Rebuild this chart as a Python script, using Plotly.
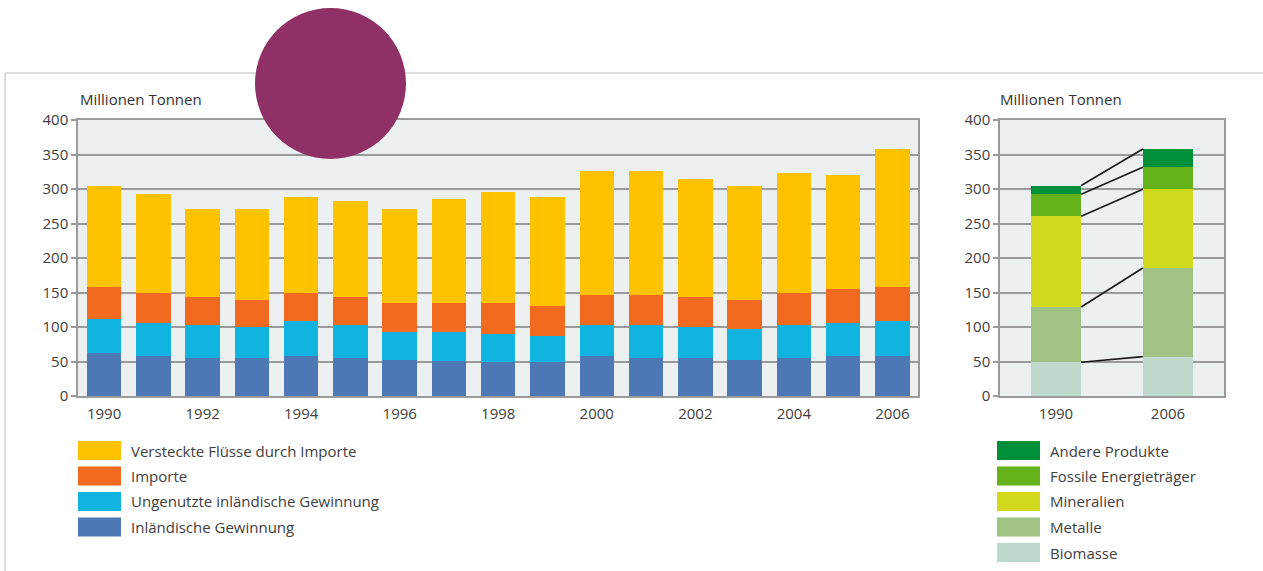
import plotly.graph_objects as go

W, H = 1263, 571

# ---------------- data ----------------
years = list(range(1990, 2007))
inland = [62, 58.5, 55.5, 54.5, 58.5, 55.5, 52, 51, 49, 50, 58.5, 55.5, 55.5, 52, 55.5, 58.5, 58.5]
unused = [49.5, 47, 47.5, 45, 50, 47.5, 41, 42, 40.5, 37.5, 44.5, 47.5, 44, 44.5, 47.5, 47, 50]
imports = [47, 44.5, 40, 40, 41.5, 40, 41.5, 41.5, 45, 43, 43.5, 43.5, 43.5, 43, 47, 49.5, 50]
hidden = [145.5, 143, 127.5, 131, 139, 140, 136, 151.5, 161, 158.5, 179.5, 179.5, 171, 165, 172.5, 165, 199.5]

left_names = ["Inländische Gewinnung", "Ungenutzte inländische Gewinnung", "Importe",
              "Versteckte Flüsse durch Importe"]
left_colors = ["#4e77b5", "#10b4de", "#f26a1f", "#ffc200"]

comp_years = ["1990", "2006"]
biomasse = [49, 57]
metalle = [80, 128.5]
mineralien = [131.5, 114]
fossile = [32, 32]
andere = [12.5, 26.5]
right_names = ["Biomasse", "Metalle", "Mineralien", "Fossile Energieträger", "Andere Produkte"]
right_colors = ["#bcd9cc", "#9fc285", "#d3da1e", "#66b21a", "#00903a"]

y_ticks = [0, 50, 100, 150, 200, 250, 300, 350, 400]
x_tick_years = [1990, 1992, 1994, 1996, 1998, 2000, 2002, 2004, 2006]
unit_label = "Millionen Tonnen"

# ---------------- helpers ----------------
def px(x):
    return x / W

def py(y):
    return 1 - y / H

FONT = "Open Sans"
TXT = "#404040"
GRID = "#9a9a9a"
FS = 15

fig = go.Figure()

left_series = [inland, unused, imports, hidden]
for name, col, vals in zip(left_names, left_colors, left_series):
    fig.add_trace(go.Bar(x=years, y=vals, name=name, marker_color=col,
                         marker_line_width=0, width=0.7, xaxis="x", yaxis="y",
                         showlegend=False))

right_series = [biomasse, metalle, mineralien, fossile, andere]
bw = 0.45
xr = list(range(len(comp_years)))
for name, col, vals in zip(right_names, right_colors, right_series):
    fig.add_trace(go.Bar(x=xr, y=vals, name=name, marker_color=col,
                         marker_line_width=0, width=bw, xaxis="x2", yaxis="y2",
                         showlegend=False))

# connector lines between segment boundaries
cum = [0, 0]
for vals in right_series:
    cum = [cum[0] + vals[0], cum[1] + vals[1]]
    fig.add_trace(go.Scatter(x=[xr[0] + bw / 2, xr[1] - bw / 2], y=list(cum),
                             mode="lines", line=dict(color="#1a1a1a", width=1.6),
                             xaxis="x2", yaxis="y2", showlegend=False, hoverinfo="skip"))

axis_common = dict(showline=True, linecolor=GRID, linewidth=1.5, mirror=True,
                   automargin=False, tickfont=dict(family=FONT, size=FS, color=TXT))

fig.update_layout(
    width=W, height=H,
    margin=dict(l=0, r=0, t=0, b=0),
    paper_bgcolor="white",
    plot_bgcolor="#edf0f0",
    barmode="stack",
    showlegend=False,
    xaxis=dict(domain=[px(78), px(918)], range=[1989.47, 2006.52],
               tickmode="array", tickvals=x_tick_years,
               ticktext=[str(v) for v in x_tick_years],
               ticks="", showgrid=False, zeroline=False, anchor="y",
               ticklabelstandoff=3, **axis_common),
    yaxis=dict(domain=[py(396), py(120)], range=[0, 400], tickvals=y_ticks,
               ticks="outside", ticklen=5, tickcolor=GRID, tickwidth=1.5,
               showgrid=True, gridcolor=GRID, gridwidth=1.5, zeroline=False,
               anchor="x", **axis_common),
    xaxis2=dict(domain=[px(1000), px(1224)], range=[-0.5, 1.5],
                tickmode="array", tickvals=xr, ticktext=comp_years,
                ticks="", showgrid=False, zeroline=False, anchor="y2",
                ticklabelstandoff=3, **axis_common),
    yaxis2=dict(domain=[py(396), py(120)], range=[0, 400], tickvals=y_ticks,
                ticks="outside", ticklen=5, tickcolor=GRID, tickwidth=1.5,
                showgrid=True, gridcolor=GRID, gridwidth=1.5, zeroline=False,
                anchor="x2", **axis_common),
)

shapes = []
annotations = []

# outer frame lines
shapes.append(dict(type="line", xref="paper", yref="paper", x0=px(5), x1=px(1263),
                   y0=py(73), y1=py(73), line=dict(color="#bdbdbd", width=1)))
shapes.append(dict(type="line", xref="paper", yref="paper", x0=px(5), x1=px(5),
                   y0=py(73), y1=py(571), line=dict(color="#bdbdbd", width=1)))

# unit labels
for xs in (78, 998):
    annotations.append(dict(text=unit_label, xref="paper", yref="paper", x=px(xs), y=py(99),
                            xanchor="left", yanchor="middle", showarrow=False,
                            font=dict(family=FONT, size=FS, color="#333333")))

# manual legends
def legend(names, colors, x0, y0):
    for i, (n, c) in enumerate(zip(names, colors)):
        yc = y0 + i * 25.5
        shapes.append(dict(type="rect", xref="paper", yref="paper",
                           x0=px(x0), x1=px(x0 + 43), y0=py(yc + 9.5), y1=py(yc - 9.5),
                           fillcolor=c, line=dict(width=0)))
        annotations.append(dict(text=n, xref="paper", yref="paper", x=px(x0 + 51), y=py(yc),
                                xanchor="left", yanchor="middle", showarrow=False,
                                font=dict(family=FONT, size=FS, color=TXT)))

legend(left_names[::-1], left_colors[::-1], 78, 450.5)
legend(right_names[::-1], right_colors[::-1], 997, 450.5)

# magenta circle
shapes.append(dict(type="circle", xref="paper", yref="paper", x0=px(255), x1=px(406),
                   y0=py(159), y1=py(8), fillcolor="#8f3067", line=dict(width=0),
                   layer="above"))

fig.update_layout(shapes=shapes, annotations=annotations)
fig.write_html("out.html")
